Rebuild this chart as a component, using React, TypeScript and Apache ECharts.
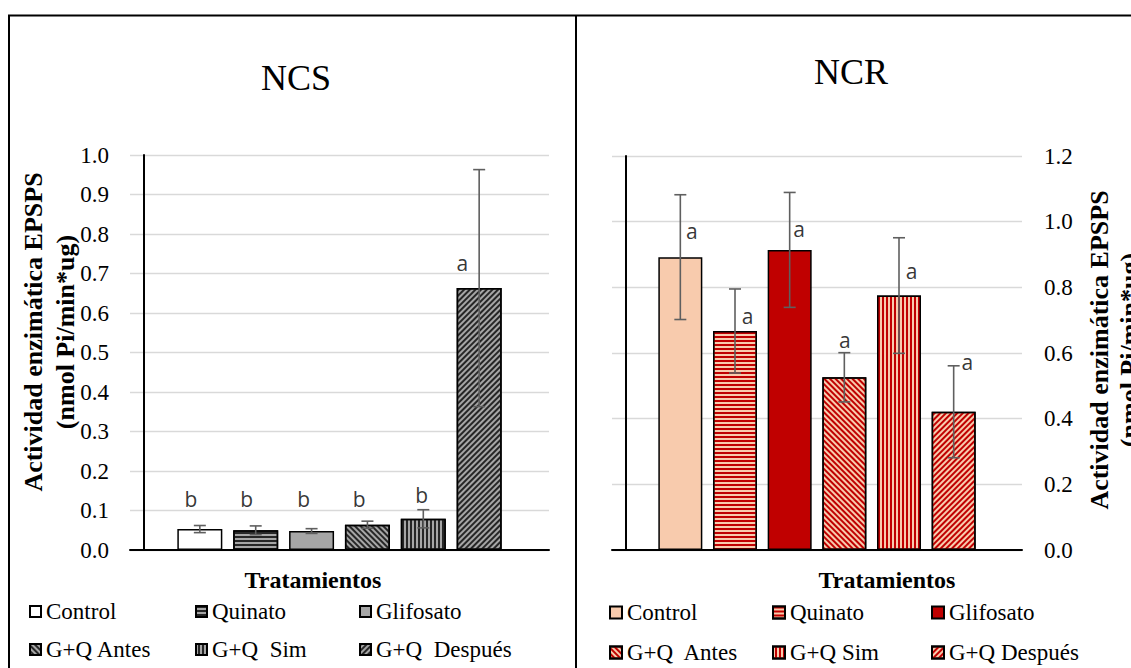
import React, { useEffect, useRef } from "react";
import * as echarts from "echarts";

// ---------- data ----------
const categories = ["Control", "Quinato", "Glifosato", "G+Q Antes", "G+Q Sim", "G+Q Después"];
const ncsLegendText = ["Control", "Quinato", "Glifosato", "G+Q Antes", "G+Q  Sim", "G+Q  Después"];
const ncrLegendText = ["Control", "Quinato", "Glifosato", "G+Q  Antes", "G+Q Sim", "G+Q Después"];
const barPositions = [1, 2, 3, 4, 5, 6];

const ncsValues = [0.053, 0.05, 0.048, 0.064, 0.079, 0.663];
const ncsErrors = [0.009, 0.011, 0.006, 0.009, 0.023, 0.3];
const ncsLetters = ["b", "b", "b", "b", "b", "a"];
const ncsLetterX = [0.84, 1.84, 2.86, 3.85, 4.97, 5.7];
const ncsLetterY = [0.128, 0.128, 0.128, 0.128, 0.138, 0.727];

const ncrValues = [0.892, 0.667, 0.914, 0.526, 0.775, 0.421];
const ncrErrors = [0.19, 0.128, 0.175, 0.075, 0.176, 0.14];
const ncrLetters = ["a", "a", "a", "a", "a", "a"];
const ncrLetterX = [1.21, 2.23, 3.17, 4.01, 5.23, 6.25];
const ncrLetterY = [0.972, 0.713, 0.977, 0.639, 0.85, 0.572];

const ncsTicks = { min: 0, max: 1.0, interval: 0.1 };
const ncrTicks = { min: 0, max: 1.2, interval: 0.2 };

// ---------- styles ----------
const SERIF = "Liberation Serif";
const SANS = "Open Sans";
const PEACH = "#f8cbad";
const RED = "#c00000";
const GRAY = "#a6a6a6";
const DARK = "#262626";

const stripe = (color: string, rotation: number, on: number, off: number) => ({
  symbol: "rect",
  symbolSize: 1,
  color,
  dashArrayX: [1, 0],
  dashArrayY: [on, off],
  rotation,
});

const ncsStyles: any[] = [
  { color: "#ffffff" },
  { color: GRAY, decal: stripe(DARK, 0, 2, 2) },
  { color: GRAY },
  { color: GRAY, decal: stripe(DARK, Math.PI / 4, 2, 2) },
  { color: GRAY, decal: stripe(DARK, Math.PI / 2, 2, 1.6) },
  { color: GRAY, decal: stripe(DARK, -Math.PI / 4, 1.5, 1.5) },
];
const ncrStyles: any[] = [
  { color: PEACH },
  { color: PEACH, decal: stripe(RED, 0, 2, 2) },
  { color: RED },
  { color: PEACH, decal: stripe(RED, Math.PI / 4, 2, 2) },
  { color: PEACH, decal: stripe(RED, Math.PI / 2, 2, 1.6) },
  { color: PEACH, decal: stripe(RED, -Math.PI / 4, 2, 2) },
];

function buildPanel(
  prefix: string,
  gridIndex: number,
  values: number[],
  errors: number[],
  styles: any[],
  letters: string[],
  letterX: number[],
  letterY: number[],
  barWidth: number
) {
  const series: any[] = values.map((v, i) => ({
    name: prefix + categories[i],
    type: "bar",
    xAxisIndex: gridIndex,
    yAxisIndex: gridIndex,
    barWidth,
    barGap: "-100%",
    data: [[barPositions[i], v]],
    itemStyle: { ...styles[i], borderColor: "#000", borderWidth: 1.5 },
    z: 2,
  }));
  series.push({
    type: "custom",
    name: prefix + "err",
    xAxisIndex: gridIndex,
    yAxisIndex: gridIndex,
    z: 5,
    data: values.map((v, i) => [barPositions[i], v - errors[i], v + errors[i]]),
    renderItem: (params: any, api: any) => {
      const x = api.value(0);
      const lo = api.coord([x, api.value(1)]);
      const hi = api.coord([x, api.value(2)]);
      const cap = 6;
      const st = { stroke: "#5f5f5f", lineWidth: 1.6 };
      return {
        type: "group",
        children: [
          { type: "line", shape: { x1: lo[0], y1: lo[1], x2: hi[0], y2: hi[1] }, style: st },
          { type: "line", shape: { x1: hi[0] - cap, y1: hi[1], x2: hi[0] + cap, y2: hi[1] }, style: st },
          { type: "line", shape: { x1: lo[0] - cap, y1: lo[1], x2: lo[0] + cap, y2: lo[1] }, style: st },
        ],
      };
    },
  });
  series.push({
    type: "scatter",
    name: prefix + "letters",
    xAxisIndex: gridIndex,
    yAxisIndex: gridIndex,
    symbolSize: 1,
    itemStyle: { color: "rgba(0,0,0,0)" },
    z: 6,
    data: letters.map((l, i) => [letterX[i], letterY[i]]),
    label: {
      show: true,
      position: "inside",
      formatter: (p: any) => letters[p.dataIndex],
      fontFamily: SANS,
      fontSize: 21,
      color: "#000",
    },
  });
  return series;
}

export default function App() {
  const ref = useRef<HTMLDivElement>(null);
  useEffect(() => {
    if (!ref.current) return;
    const chart = echarts.init(ref.current, undefined, { renderer: "svg" });

    const legendCol = (prefix: string, idxs: number[], left: number, top: number, gap: number, size: number, texts: string[]) => ({
      orient: "vertical",
      left,
      top,
      itemGap: gap,
      itemWidth: size,
      itemHeight: size,
      icon: "rect",
      selectedMode: false,
      data: idxs.map((i) => prefix + categories[i]),
      formatter: (name: string) => texts[categories.indexOf(name.slice(prefix.length))],
      textStyle: { fontFamily: SERIF, fontSize: 23, color: "#000", lineHeight: 23 },
      padding: 0,
    });

    const yAxisCommon = {
      type: "value",
      splitLine: { show: true, lineStyle: { color: "#d9d9d9", width: 1.3 } },
      axisLine: { show: true, lineStyle: { color: "#000", width: 2 } },
      axisTick: { show: false },
      axisLabel: {
        fontFamily: SERIF,
        fontSize: 23,
        color: "#000",
        formatter: (v: number) => v.toFixed(1),
      },
    };
    const xAxisCommon = {
      type: "value",
      min: -0.25,
      max: 7.25,
      axisLine: { show: true, onZero: false, lineStyle: { color: "#000", width: 2 } },
      axisTick: { show: false },
      axisLabel: { show: false },
      splitLine: { show: false },
    };

    const yTitle = "Actividad enzimática EPSPS\n(nmol Pi/min*ug)";

    chart.setOption({
      animation: false,
      backgroundColor: "#fff",
      grid: [
        { left: 130, top: 155, width: 419, height: 395 },
        { left: 612, top: 156, width: 410, height: 394 },
      ],
      xAxis: [
        { ...xAxisCommon, gridIndex: 0 },
        { ...xAxisCommon, gridIndex: 1 },
      ],
      yAxis: [
        { ...yAxisCommon, gridIndex: 0, ...ncsTicks, axisLabel: { ...yAxisCommon.axisLabel, margin: 21 } },
        { ...yAxisCommon, gridIndex: 1, ...ncrTicks, position: "right", axisLabel: { ...yAxisCommon.axisLabel, margin: 22 } },
      ],
      legend: [
        legendCol("NCS|", [0, 3], 29, 600, 15, 11, ncsLegendText),
        legendCol("NCS|", [1, 4], 195, 600, 15, 11, ncsLegendText),
        legendCol("NCS|", [2, 5], 359, 600, 15, 11, ncsLegendText),
        legendCol("NCR|", [0, 3], 609, 601, 17, 12, ncrLegendText),
        legendCol("NCR|", [1, 4], 772, 601, 17, 12, ncrLegendText),
        legendCol("NCR|", [2, 5], 931, 601, 17, 12, ncrLegendText),
      ],
      series: [
        ...buildPanel("NCS|", 0, ncsValues, ncsErrors, ncsStyles, ncsLetters, ncsLetterX, ncsLetterY, 45),
        ...buildPanel("NCR|", 1, ncrValues, ncrErrors, ncrStyles, ncrLetters, ncrLetterX, ncrLetterY, 44),
      ],
      graphic: [
        { type: "line", shape: { x1: 8, y1: 15.5, x2: 1131, y2: 15.5 }, style: { stroke: "#000", lineWidth: 2 } },
        { type: "line", shape: { x1: 9, y1: 15, x2: 9, y2: 668 }, style: { stroke: "#000", lineWidth: 2 } },
        { type: "line", shape: { x1: 576, y1: 15, x2: 576, y2: 668 }, style: { stroke: "#000", lineWidth: 2 } },
        { type: "text", x: 296, y: 78, style: { text: "NCS", fontFamily: SERIF, fontSize: 36, fill: "#000", align: "center", verticalAlign: "middle" } },
        { type: "text", x: 851, y: 72, style: { text: "NCR", fontFamily: SERIF, fontSize: 36, fill: "#000", align: "center", verticalAlign: "middle" } },
        { type: "text", x: 313, y: 580, style: { text: "Tratamientos", fontFamily: SERIF, fontWeight: "bold", fontSize: 24, fill: "#000", align: "center", verticalAlign: "middle" } },
        { type: "text", x: 887, y: 580, style: { text: "Tratamientos", fontFamily: SERIF, fontWeight: "bold", fontSize: 24, fill: "#000", align: "center", verticalAlign: "middle" } },
        { type: "text", x: 49, y: 332, rotation: Math.PI / 2, style: { text: yTitle, fontFamily: SERIF, fontWeight: "bold", fontSize: 26, lineHeight: 32, fill: "#000", align: "center", verticalAlign: "middle" } },
        { type: "text", x: 1114, y: 350, rotation: Math.PI / 2, style: { text: yTitle, fontFamily: SERIF, fontWeight: "bold", fontSize: 26, lineHeight: 30, fill: "#000", align: "center", verticalAlign: "middle" } },
      ],
    });
    return () => chart.dispose();
  }, []);
  return <div ref={ref} style={{ position: "fixed", left: 0, top: 0, width: 1131, height: 668 }} />;
}
